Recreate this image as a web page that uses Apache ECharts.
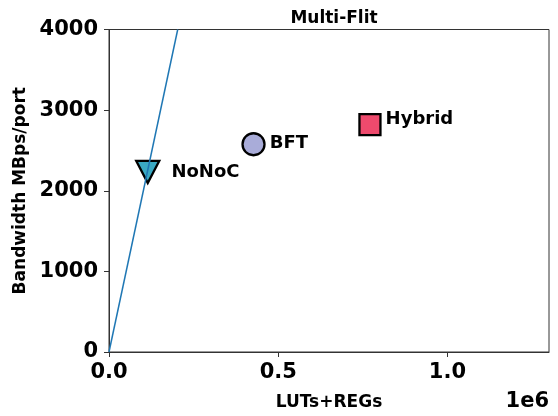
<!DOCTYPE html>
<html>
<head>
<meta charset="utf-8">
<script src="https://cdn.jsdelivr.net/npm/echarts@6/dist/echarts.min.js"></script>
<style>
  html, body { margin: 0; padding: 0; background: #fff; }
  #chart { width: 558px; height: 416px; }
</style>
</head>
<body>
<div id="chart"></div>
<script>
// Resource cost (LUTs+REGs) vs bandwidth per port, multi-flit packets
const designs = ['NoNoC', 'BFT', 'Hybrid'];
const luts = [114500, 427000, 771000];
const bandwidth = [2234, 2577, 2821];
const symbols = ['triangle', 'circle', 'rect'];
const rotations = [180, 0, 0];
const colors = ['#3aa9c3', '#a9acd9', '#ee4a6d'];
const labelGaps = [11, 4, 4];
const labelLifts = [0, -1, -5];

// Reference line through the origin
const refLine = [[0, 0], [203000, 4000]];

const xTicks = [0, 500000, 1000000];
const yTicks = [0, 1000, 2000, 3000, 4000];

const FONT = 'DejaVu Sans';

const chart = echarts.init(document.getElementById('chart'), null, { renderer: 'canvas' });

const markerSizes = [[23, 22], 22, 21];

const scatterSeries = designs.map((name, i) => ({
  type: 'scatter',
  name: name,
  data: [[luts[i], bandwidth[i]]],
  symbol: symbols[i],
  symbolRotate: rotations[i],
  symbolSize: markerSizes[i],
  itemStyle: { color: colors[i], borderColor: '#000', borderWidth: 2.3, opacity: 1 },
  label: {
    show: true,
    formatter: name,
    position: 'right',
    distance: labelGaps[i],
    offset: [0, labelLifts[i]],
    color: '#000',
    fontFamily: FONT,
    fontWeight: 'bold',
    fontSize: 18
  },
  z: 2
}));

chart.setOption({
  animation: false,
  backgroundColor: '#fff',
  title: {
    text: 'Multi-Flit',
    left: 329,
    textAlign: 'center',
    top: 5,
    textStyle: { fontFamily: FONT, fontWeight: 'bold', fontSize: 17, color: '#000' }
  },
  grid: {
    left: 109, top: 29.5, right: 9, bottom: 59,
    show: true, borderColor: '#333', borderWidth: 1, backgroundColor: '#fff'
  },
  xAxis: {
    type: 'value',
    min: 0,
    max: 1300000,
    interval: 500000,
    splitLine: { show: false },
    axisLine: { show: true, onZero: false, lineStyle: { color: '#333', width: 1 } },
    axisTick: { show: true, length: 5, customValues: xTicks, lineStyle: { color: '#333' } },
    axisLabel: {
      customValues: xTicks,
      formatter: v => (v / 1e6).toFixed(1),
      fontFamily: FONT, fontWeight: 'bold', fontSize: 21, color: '#000', margin: 10
    },
    name: 'LUTs+REGs',
    nameLocation: 'middle',
    nameGap: 42,
    nameTextStyle: { fontFamily: FONT, fontWeight: 'bold', fontSize: 17, color: '#000' }
  },
  yAxis: {
    type: 'value',
    min: 0,
    max: 4000,
    interval: 1000,
    splitLine: { show: false },
    axisLine: { show: true, lineStyle: { color: '#333', width: 1 } },
    axisTick: { show: true, length: 5, customValues: yTicks, lineStyle: { color: '#333' } },
    axisLabel: {
      customValues: yTicks,
      formatter: v => String(v),
      fontFamily: FONT, fontWeight: 'bold', fontSize: 21, color: '#000', margin: 11
    },
    name: 'Bandwidth MBps/port',
    nameLocation: 'middle',
    nameGap: 79,
    nameTextStyle: { fontFamily: FONT, fontWeight: 'bold', fontSize: 17, color: '#000' }
  },
  graphic: [{
    type: 'text',
    right: 9,
    top: 391,
    style: { text: '1e6', fontFamily: FONT, fontWeight: 'bold', fontSize: 21, fill: '#000' }
  }],
  series: [
    ...scatterSeries,
    {
      type: 'line',
      name: 'ref',
      data: refLine,
      showSymbol: false,
      symbol: 'none',
      clip: true,
      lineStyle: { color: '#1f77b4', width: 1.5 },
      z: 5
    }
  ]
});
</script>
</body>
</html>
